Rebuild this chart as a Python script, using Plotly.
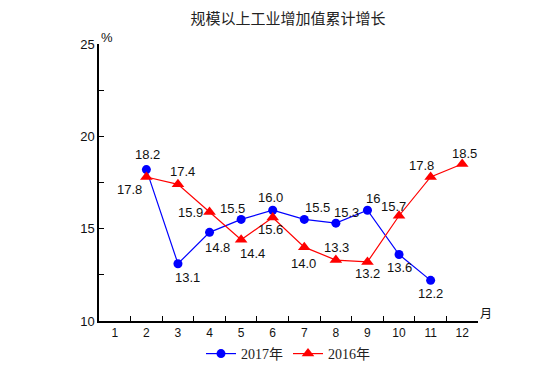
import plotly.graph_objects as go

months = [str(m) for m in range(1, 13)]
m2017 = ["2", "3", "4", "5", "6", "7", "8", "9", "10", "11"]
v2017 = [18.2, 13.1, 14.8, 15.5, 16.0, 15.5, 15.3, 16.0, 13.6, 12.2]
t2017 = ["18.2", "13.1", "14.8", "15.5", "16.0", "15.5", "15.3", "16", "13.6", "12.2"]
m2016 = ["2", "3", "4", "5", "6", "7", "8", "9", "10", "11", "12"]
v2016 = [17.8, 17.4, 15.9, 14.4, 15.6, 14.0, 13.3, 13.2, 15.7, 17.8, 18.5]
t2016 = ["17.8", "17.4", "15.9", "14.4", "15.6", "14.0", "13.3", "13.2", "15.7", "17.8", "18.5"]

# label offsets (pixels, styling only): x right, y down
off2017 = [(1, -15), (10, 14), (8, 15), (-9, -11), (-2, -13), (13, -12), (11, -11), (6, -12), (0, 13), (0, 13)]
off2016 = [(-17, 13), (5, -13), (-19, 0), (11, 14), (-2, 12), (-1, 16), (1, -13), (0, 12), (-6, -9), (-9, -11), (2, -11)]

# page body has an 8px default margin; compensate
PAD = 8

lab_font = dict(family="Liberation Sans, Arial", size=13, color="#111")

fig = go.Figure()
fig.add_trace(go.Scatter(
    x=m2017, y=v2017, name="2017年", mode="lines+markers",
    line=dict(color="#0000ff", width=1.2),
    marker=dict(symbol="circle", size=9, color="#0000ff"),
    cliponaxis=False,
))
fig.add_trace(go.Scatter(
    x=m2016, y=v2016, name="2016年", mode="lines+markers",
    line=dict(color="#ff0000", width=1.2),
    marker=dict(symbol="triangle-up", size=11, color="#ff0000"),
    cliponaxis=False,
))

annotations = []
for xs, ys, ts, offs in [(m2017, v2017, t2017, off2017), (m2016, v2016, t2016, off2016)]:
    for x, y, t, (dx, dy) in zip(xs, ys, ts, offs):
        annotations.append(dict(x=months.index(x), y=y, text=t, showarrow=False,
                                xanchor="center", yanchor="middle",
                                xshift=dx, yshift=-dy, font=lab_font))

annotations += [
    dict(text="%", xref="paper", yref="paper", x=0, y=1, xanchor="left", yanchor="bottom",
         xshift=0, yshift=-3, showarrow=False,
         font=dict(family="Liberation Sans, Arial", size=13, color="#111")),
    dict(text="月", xref="paper", yref="paper", x=1, y=0, xanchor="left", yanchor="bottom",
         xshift=0, yshift=-2, showarrow=False,
         font=dict(family="Noto Sans CJK SC", size=12, color="#111")),
]

L, T, PW, PH = 99 - PAD, 44 - PAD, 379, 277

fig.update_layout(
    width=553, height=385,
    margin=dict(l=L, r=553 - L - PW, t=T, b=385 - T - PH, autoexpand=False),
    paper_bgcolor="white", plot_bgcolor="white",
    title=dict(text="规模以上工业增加值累计增长", x=(288 - PAD) / 553, xanchor="center",
               yref="container", y=1 - (19 - PAD) / 385, yanchor="middle",
               font=dict(family="Noto Sans CJK SC", size=15, color="#222")),
    showlegend=True,
    legend=dict(orientation="h", xref="container", yref="container",
                x=(288 - PAD) / 553, xanchor="center", y=1 - (354 - PAD) / 385, yanchor="middle",
                font=dict(family="Liberation Serif, Noto Sans CJK SC", size=14, color="#222"),
                tracegroupgap=0),
    xaxis=dict(type="category", categoryorder="array", categoryarray=months,
               range=[-0.5, 11.5], tickson="boundaries", ticks="inside", ticklen=5,
               tickcolor="#000", showline=True, linecolor="#000", linewidth=1.5,
               showgrid=False, zeroline=False, automargin=False,
               tickfont=dict(family="Liberation Sans, Arial", size=12, color="#111")),
    yaxis=dict(range=[10, 25], tickvals=[10, 15, 20, 25], ticks="inside", ticklen=5,
               tickcolor="#000", showline=True, linecolor="#000", linewidth=1.5,
               showgrid=False, zeroline=False, automargin=False,
               minor=dict(dtick=2.5, tick0=10, ticks="inside", ticklen=5, tickcolor="#000"),
               tickfont=dict(family="Liberation Sans, Arial", size=13, color="#111")),
    annotations=annotations,
)

fig.write_html("out.html")
